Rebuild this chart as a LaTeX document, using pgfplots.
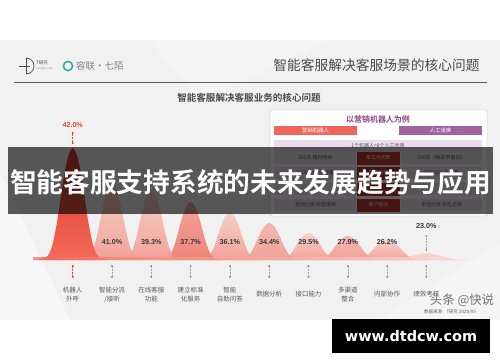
\documentclass[border=0pt]{standalone}
\usepackage{fontspec}
\setmainfont{Liberation Sans}
\newfontfamily\cjk{Noto Sans CJK SC}[BoldFont={Noto Sans CJK SC Bold}]
\newfontfamily\deja{DejaVu Sans}
\usepackage{pgfplots}
\pgfplotsset{compat=1.18}
\definecolor{slidebg}{HTML}{F1F1F1}
\definecolor{hdr}{HTML}{4A4A4A}
\definecolor{redA}{HTML}{D8362A}
\definecolor{redB}{HTML}{F56A58}
\definecolor{pinkA}{HTML}{F7CDC7}
\definecolor{pinkB}{HTML}{F29A8F}
\definecolor{salA}{HTML}{F19A8F}
\definecolor{salB}{HTML}{EF7A6D}
\definecolor{midA}{HTML}{F4B1A9}
\definecolor{pctred}{HTML}{E8473B}
\definecolor{pctgray}{HTML}{3A3A3A}
\definecolor{catgray}{HTML}{5A5A5A}
\definecolor{purp}{HTML}{8E4585}
\definecolor{purbox}{HTML}{A0639F}
\definecolor{redbox}{HTML}{F0645A}
\definecolor{lav}{HTML}{EADCEA}
\definecolor{cellred}{HTML}{C43A2E}
\definecolor{tealg}{HTML}{3AAA9A}
\begin{document}
\begin{tikzpicture}[x=1bp,y=1bp]
\useasboundingbox (0,0) rectangle (500,362);
\fill[white] (0,0) rectangle (500,362);
% slide background
\fill[slidebg] (0,42) rectangle (500,322);
\fill[white,opacity=0.45] (0,42) -- (70,42) -- (0,190) -- cycle;
\fill[white,opacity=0.35] (150,322) -- (330,322) -- (200,260) -- cycle;
\fill[white,opacity=0.35] (380,42) -- (500,42) -- (500,120) -- cycle;
% header logos
\draw[hdr,line width=0.7] (19,296) -- (30,296);
\draw[hdr,line width=0.7] (26,304) arc (90:-90:8);
\draw[hdr,line width=0.7] (26,304) -- (26,288);
\node[anchor=west,inner sep=0,text=hdr] at (36,299) {\cjk\fontsize{4.5}{5}\selectfont T研究};
\node[anchor=west,inner sep=0,text=gray] at (36,293.5) {\fontsize{2.2}{3}\selectfont DATATELL.COM};
\draw[tealg,line width=1.6] (68,296) circle (4.6);
\node[anchor=west,inner sep=0,text=gray] at (76,296) {\cjk\fontsize{9.5}{11}\selectfont 容联·七陌};
\node[text=hdr,inner sep=0] at (376.5,297) {\cjk\fontsize{13.8}{16}\selectfont 智能客服解决客服场景的核心问题};
\draw[hdr!90,line width=0.9] (14,280) -- (487,280);
\node[text=hdr,inner sep=0] at (249,264) {\cjk\bfseries\fontsize{9.6}{11}\selectfont 智能客服解决客服业务的核心问题};
% inset table
\draw[gray!50,fill=white,rounded corners=2] (270,146) rectangle (487,252);
\node[text=purp,inner sep=0] at (378,243) {\cjk\bfseries\fontsize{8}{9}\selectfont 以营销机器人为例};
\fill[redbox] (274,227) rectangle (357,236);
\node[text=white,inner sep=0] at (315.5,231.5) {\cjk\fontsize{5.5}{6}\selectfont 营销机器人};
\fill[purbox] (399,227) rectangle (482,236);
\node[text=white,inner sep=0] at (440.5,231.5) {\cjk\fontsize{5.5}{6}\selectfont 人工坐席};
\fill[lav] (274,210) rectangle (482,222);
\node[text=catgray,inner sep=0] at (378,216) {\cjk\fontsize{5}{6}\selectfont 1个机器人=8个人工坐席};
\foreach \yc in {204,189,173,157}{
  \fill[lav!70] (274,\yc-6) rectangle (356,\yc+6);
  \fill[cellred] (357,\yc-6.5) rectangle (400,\yc+6.5);
  \fill[lav!70] (401,\yc-6) rectangle (482,\yc+6);
}
\foreach \yc/\l/\c/\r in {204/365天 随时待命/年工作天数/250天（除去节假日）,189/1000*365 外呼量/年外呼量/300*250 外呼量,157/自动分类 标签清晰/客户标注/手动分类 杂乱无章}{
  \node[text=catgray,inner sep=0] at (315.5,\yc) {\cjk\fontsize{5}{6}\selectfont \l};
  \node[text=white,inner sep=0] at (378.5,\yc) {\cjk\fontsize{5}{6}\selectfont \c};
  \node[text=catgray,inner sep=0] at (441.5,\yc) {\cjk\fontsize{5}{6}\selectfont \r};
}
% chart
\begin{axis}[
  at={(25.54bp,102bp)}, anchor=south west,
  width=463.74bp, height=120bp, scale only axis,
  xmin=-1.2, xmax=10.6, ymin=0, ymax=120,
  clip=false,
  axis line style={draw=none},
  ytick=\empty,
  xtick={0,1,2,3,4,5,6,7,8,9},
  xticklabels={{机器人\\外呼},{智能分流\\/接听},{在线客服\\功能},{建立标准\\化服务},{智能\\自助问答},{数据分析},{接口能力},{多渠道\\整合},{内部协作},{绩效考核}},
  major tick length=0pt,
  xticklabel style={anchor=center, yshift=-34.5bp, align=center, text=catgray, font=\cjk\fontsize{6.5}{9}\selectfont},
]
% peaks (right to left so left ones lie in front)
\addplot[smooth, draw=none, top color=pinkA!80!white, bottom color=pinkB!70!white, fill opacity=0.9] coordinates {(7.88,0) (8.2,0.2) (8.36,0.8) (8.52,2.4) (8.68,4.6) (8.84,6.3) (9,7) (9.16,6.3) (9.32,4.6) (9.48,2.4) (9.64,0.8) (9.8,0.2) (10.12,0)} \closedcycle;
\addplot[smooth, draw=none, top color=pinkA, bottom color=pinkB, fill opacity=0.9] coordinates {(6.95,0) (7.25,0.6) (7.4,2.4) (7.55,6.9) (7.7,13.1) (7.85,18.1) (8,20) (8.15,18.1) (8.3,13.1) (8.45,6.9) (8.6,2.4) (8.75,0.6) (9.05,0)} \closedcycle;
\addplot[smooth, draw=none, top color=midA, bottom color=pinkB, fill opacity=0.9] coordinates {(6.02,0) (6.3,0.7) (6.44,2.9) (6.58,8.3) (6.72,15.7) (6.86,21.7) (7,24) (7.14,21.7) (7.28,15.7) (7.42,8.3) (7.56,2.9) (7.7,0.7) (7.98,0)} \closedcycle;
\addplot[smooth, draw=none, top color=pinkA, bottom color=pinkB, fill opacity=0.9] coordinates {(5.09,0) (5.35,0.8) (5.48,3.2) (5.61,9.3) (5.74,17.7) (5.87,24.4) (6,27) (6.13,24.4) (6.26,17.7) (6.39,9.3) (6.52,3.2) (6.65,0.8) (6.91,0)} \closedcycle;
\addplot[smooth, draw=none, top color=midA, bottom color=pinkB, fill opacity=0.9] coordinates {(4.09,0) (4.35,1.1) (4.48,4.4) (4.61,12.8) (4.74,24.2) (4.87,33.5) (5,37) (5.13,33.5) (5.26,24.2) (5.39,12.8) (5.52,4.4) (5.65,1.1) (5.91,0)} \closedcycle;
\addplot[smooth, draw=none, top color=pinkA, bottom color=pinkB, fill opacity=0.9] coordinates {(3.132,0) (3.38,1.4) (3.504,5.8) (3.628,16.6) (3.752,31.4) (3.876,43.4) (4,48) (4.124,43.4) (4.248,31.4) (4.372,16.6) (4.496,5.8) (4.62,1.4) (4.868,0)} \closedcycle;
\addplot[smooth, draw=none, top color=salA, bottom color=salB, fill opacity=0.9] coordinates {(2.132,0) (2.38,1.7) (2.504,7.0) (2.628,20.0) (2.752,38.0) (2.876,52.5) (3,58) (3.124,52.5) (3.248,38.0) (3.372,20.0) (3.496,7.0) (3.62,1.7) (3.868,0)} \closedcycle;
\addplot[smooth, draw=none, top color=pinkA, bottom color=pinkB, fill opacity=0.9] coordinates {(1.132,0) (1.38,2.1) (1.504,8.4) (1.628,24.2) (1.752,45.9) (1.876,63.4) (2,70) (2.124,63.4) (2.248,45.9) (2.372,24.2) (2.496,8.4) (2.62,2.1) (2.868,0)} \closedcycle;
\addplot[smooth, draw=none, top color=pinkA, bottom color=pinkB, fill opacity=0.9] coordinates {(0.132,0) (0.38,2.3) (0.504,9.1) (0.628,26.2) (0.752,49.8) (0.876,68.8) (1,76) (1.124,68.8) (1.248,49.8) (1.372,26.2) (1.496,9.1) (1.62,2.3) (1.868,0)} \closedcycle;
\addplot[smooth, draw=none, top color=redA, bottom color=redB] coordinates {(-0.924,0) (-0.66,3.4) (-0.528,13.4) (-0.396,38.6) (-0.264,73.4) (-0.132,101.4) (0,112) (0.132,101.4) (0.264,73.4) (0.396,38.6) (0.528,13.4) (0.66,3.4) (0.924,0)} \closedcycle;
% baseline band
\addplot[draw=none, left color=redB, right color=pinkA!60!white, fill opacity=0.7] coordinates {(-1.0,0) (9.6,0) (9.6,3) (-1.0,3)} \closedcycle;
% percentage labels
\addplot[only marks, mark=none, nodes near coords, point meta=explicit symbolic,
  every node near coord/.style={anchor=center, text=pctgray, font=\bfseries\fontsize{7.2}{8}\selectfont}]
  coordinates {(1,18)[41.0\%] (2,18)[39.3\%] (3,18)[37.7\%] (4,18)[36.1\%] (5,18)[34.4\%] (6,18)[29.5\%] (7,18)[27.9\%] (8,18)[26.2\%] (9,34)[23.0\%]};
\addplot[only marks, mark=none, nodes near coords, point meta=explicit symbolic,
  every node near coord/.style={anchor=center, text=pctred, font=\bfseries\fontsize{7.2}{8}\selectfont}]
  coordinates {(0,135)[42.0\%]};
% connectors
\addplot[gray!70, densely dotted, line width=0.5, unbounded coords=jump] coordinates {
 (1,-6) (1,-17) (1,nan) (2,-6) (2,-17) (2,nan) (3,-6) (3,-17) (3,nan) (4,-6) (4,-17) (4,nan)
 (5,-6) (5,-17) (5,nan) (6,-6) (6,-17) (6,nan) (7,-6) (7,-17) (7,nan) (8,-6) (8,-17) (8,nan)
 (9,-6) (9,-17) (9,nan) (9,10) (9,24)};
\addplot[only marks, mark=*, mark size=0.8, gray!80] coordinates {
 (1,-6) (1,-17) (2,-6) (2,-17) (3,-6) (3,-17) (4,-6) (4,-17) (5,-6) (5,-17)
 (6,-6) (6,-17) (7,-6) (7,-17) (8,-6) (8,-17) (9,-6) (9,-17) (9,10) (9,24)};
\addplot[pctred, densely dotted, line width=0.5, unbounded coords=jump] coordinates {(0,-6) (0,-17) (0,nan) (0,117) (0,127)};
\addplot[only marks, mark=*, mark size=0.8, pctred] coordinates {(0,-6) (0,-17) (0,117) (0,127)};
\end{axis}
% banner overlay
\fill[black,opacity=0.64] (8,148) rectangle (493,215);
\node[text=white,inner sep=0] at (250.5,180) {\cjk\bfseries\fontsize{26.8}{30}\selectfont 智能客服支持系统的未来发展趋势与应用};
% watermark and source
\node[text=gray!90!black,inner sep=0] at (462,62) {\cjk\fontsize{12.5}{14}\selectfont 头条 @快说};
\node[text=catgray,inner sep=0] at (450,50) {\cjk\fontsize{4.5}{5}\selectfont 数据来源：T研究 2020/05};
% site box
\fill[black] (332,9) rectangle (490,43);
\node[text=white,inner sep=0] at (411,26) {\deja\bfseries\fontsize{14.5}{16}\selectfont www.dtdcw.com};
\end{tikzpicture}
\end{document}
